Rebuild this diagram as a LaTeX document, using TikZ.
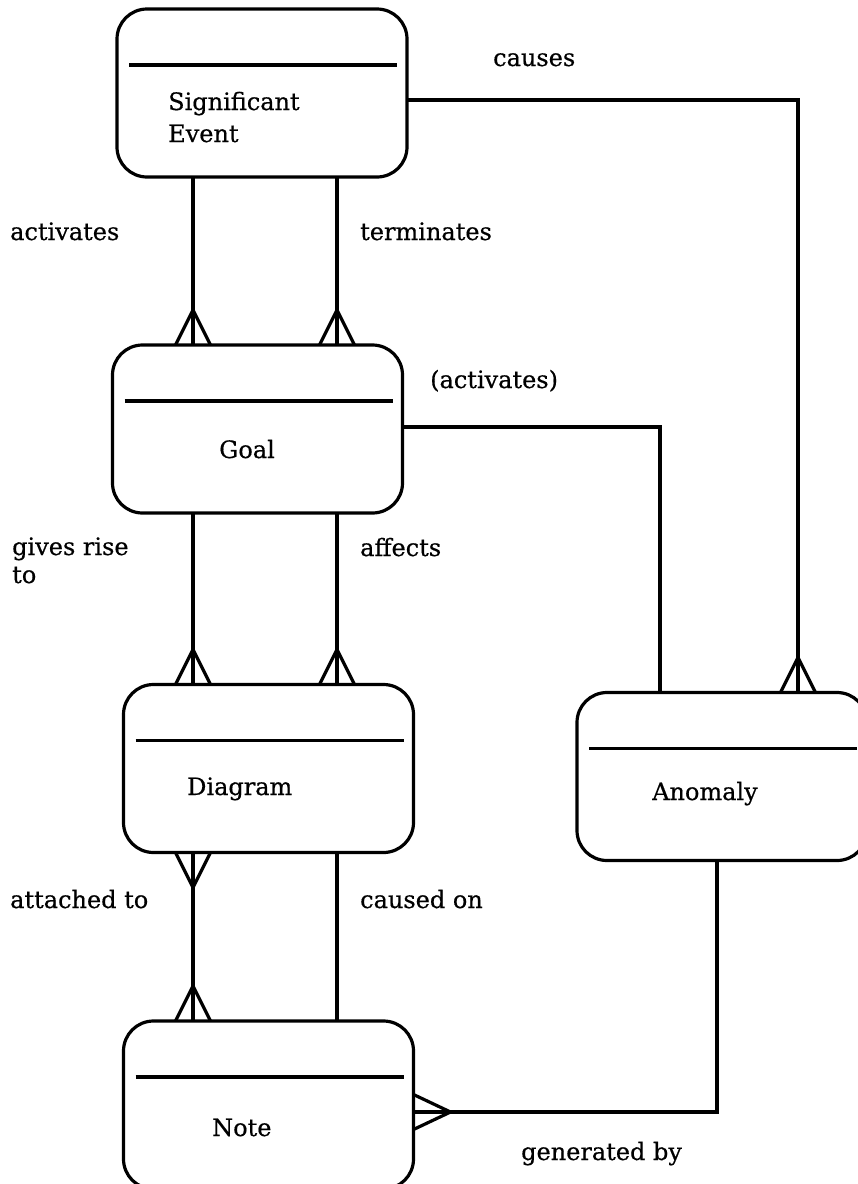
\documentclass[tikz,border=0pt]{standalone}
\usepackage{fontspec}
\setmainfont{DejaVu Serif}[BoldFont=DejaVu Serif, BoldFeatures={FakeBold=0.5}]
\usetikzlibrary{calc}

\tikzset{
  entity/.style={draw, line width=3.2pt, rounded corners=30pt, inner sep=0pt,
    outer sep=0pt, minimum width=290pt, minimum height=168pt},
  rel/.style={line width=3.2pt},
  divider/.style={line width=3.2pt},
  txt/.style={anchor=base west, inner sep=0pt, font=\fontsize{24}{32}\selectfont\bfseries, align=left},
  pics/crowup/.style={code={\draw[rel] (-17.5,0) -- (0,-35) -- (17.5,0);}},
  pics/crowdown/.style={code={\draw[rel] (-17.5,0) -- (0,35) -- (17.5,0);}},
  pics/crowright/.style={code={\draw[rel] (0,-17.5) -- (37,0) -- (0,17.5);}},
}

\begin{document}
\begin{tikzpicture}[x=1pt, y=-1pt, line join=miter]
\useasboundingbox (0,0) rectangle (858,1184);
\clip (0,0) rectangle (858,1184);

% entities
\node[entity] (se)   at (262,93)     {};
\node[entity] (goal) at (257.5,429)  {};
\node[entity] (diag) at (268.5,768.5) {};
\node[entity] (note) at (268.5,1105) {};
\node[entity] (anom) at (722,776.5)  {};

% header dividers
\foreach \e in {se,goal,diag,note,anom}
  \draw[divider] ($(\e.north west)+(12,56)$) -- ($(\e.north east)+(-10,56)$);

% entity names (multi-line nodes sit on the baseline of their last line)
\node[txt] (tse)   at (168,142)  {Significant\\Event};
\node[txt] (tgoal) at (219,458)  {Goal};
\node[txt] (tdiag) at (187,795)  {Diagram};
\node[txt] (tnote) at (212,1136) {Note};
\node[txt] (tanom) at (652,800)  {Anomaly};

% column and row positions of the connectors
\coordinate (cl) at (193,0);
\coordinate (cr) at (337,0);
\coordinate (cc) at (798,0);
\coordinate (ca) at (660,0);
\coordinate (cg) at (717,0);
\coordinate (rc) at (0,100);
\coordinate (ra) at (0,427);
\coordinate (rg) at (0,1112);

% Significant Event -> Goal
\draw[rel] (cl |- se.south) -- (cl |- goal.north);
\pic at (cl |- goal.north) {crowup};
\draw[rel] (cr |- se.south) -- (cr |- goal.north);
\pic at (cr |- goal.north) {crowup};

% Goal -> Diagram
\draw[rel] (cl |- goal.south) -- (cl |- diag.north);
\pic at (cl |- diag.north) {crowup};
\draw[rel] (cr |- goal.south) -- (cr |- diag.north);
\pic at (cr |- diag.north) {crowup};

% Diagram <-> Note
\draw[rel] (cl |- diag.south) -- (cl |- note.north);
\pic at (cl |- diag.south) {crowdown};
\pic at (cl |- note.north) {crowup};
\draw[rel] (cr |- diag.south) -- (cr |- note.north);

% Significant Event -> Anomaly
\draw[rel] (rc -| se.east) -- (rc -| cc) -- (cc |- anom.north);
\pic at (cc |- anom.north) {crowup};

% Goal -> Anomaly
\draw[rel] (ra -| goal.east) -- (ra -| ca) -- (ca |- anom.north);

% Anomaly -> Note
\draw[rel] (cg |- anom.south) -- (cg |- rg) -- (rg -| note.east);
\pic at (rg -| note.east) {crowright};

% relationship labels
\node[txt] (lcauses) at (493,66)   {causes};
\node[txt] (lact)    at (10,240)   {activates};
\node[txt] (lterm)   at (360,240)  {terminates};
\node[txt] (lpact)   at (430,388)  {(activates)};
\node[txt, font=\fontsize{24}{28}\selectfont\bfseries] (lgives) at (12,583) {gives rise\\to};
\node[txt] (laff)    at (360,556)  {affects};
\node[txt] (latt)    at (10,908)   {attached to};
\node[txt] (lcaused) at (360,908)  {caused on};
\node[txt] (lgen)    at (521,1160) {generated by};
\end{tikzpicture}
\end{document}
